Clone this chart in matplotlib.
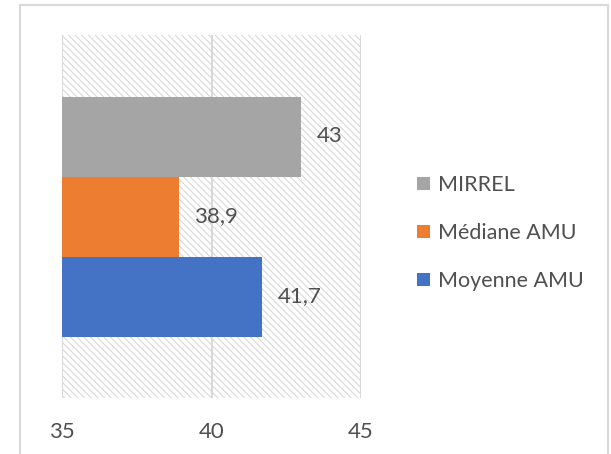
import matplotlib
matplotlib.use("Agg")
import matplotlib.pyplot as plt
from matplotlib.patches import Rectangle, Patch
from matplotlib.lines import Line2D

categories = ["Moyenne AMU", "Médiane AMU", "MIRREL"]
values = [41.7, 38.9, 43.0]
labels = ["41,7", "38,9", "43"]
colors = ["#4472C4", "#ED7D31", "#A5A5A5"]
xticks = [35, 40, 45]

plt.rcParams['font.family'] = ['Lato', 'DejaVu Sans']
plt.rcParams['hatch.linewidth'] = 0.8

fig = plt.figure(figsize=(6.11, 4.54), dpi=100)
ax = fig.add_axes([62/611, 1-398/454, (361-62)/611, (398-35)/454])

# outer frame (top, left, right)
fc = '#d9d9d9'
fig.add_artist(Line2D([20/611, 20/611], [0, 1-5/454], color=fc, lw=1.5, transform=fig.transFigure))
fig.add_artist(Line2D([608/611, 608/611], [0, 1-5/454], color=fc, lw=1.5, transform=fig.transFigure))
fig.add_artist(Line2D([20/611, 608/611], [1-5/454, 1-5/454], color=fc, lw=1.5, transform=fig.transFigure))

ax.add_patch(Rectangle((0, 0), 1, 1, transform=ax.transAxes, facecolor='white',
                       edgecolor='#d9d9d9', hatch='\\\\\\\\\\', lw=0, zorder=0))

y = list(range(len(categories)))
ax.barh(y, [v - 35 for v in values], left=35, height=1.0, color=colors, zorder=3)
for yi, v, lab in zip(y, values, labels):
    ax.annotate(lab, (v, yi), xytext=(11, 0), textcoords='offset points',
                va='center', ha='left', fontsize=16, color='#505050', zorder=4)

half = (398-35)/80/2
ax.set_ylim(1 - half, 1 + half)
ax.set_xlim(35, 45)
ax.set_xticks(xticks)
ax.set_xticklabels([str(t) for t in xticks], fontsize=16, color='#505050')
ax.set_yticks([])
ax.tick_params(axis='x', length=0, pad=17)
for xt in xticks:
    ax.axvline(xt, color='#d9d9d9', lw=1.5, zorder=1)
for s in ax.spines.values():
    s.set_visible(False)

handles = [Patch(facecolor=colors[i], edgecolor='none') for i in [2, 1, 0]]
leg_labels = [categories[i] for i in [2, 1, 0]]
leg = fig.legend(handles, leg_labels, loc='center left', bbox_to_anchor=(398/611, 1-233/454),
                 frameon=False, fontsize=15.5, labelcolor='#505050', handlelength=0.6,
                 handleheight=0.6, handletextpad=0.35, labelspacing=1.3)

fig.savefig("out.png", dpi=100)
